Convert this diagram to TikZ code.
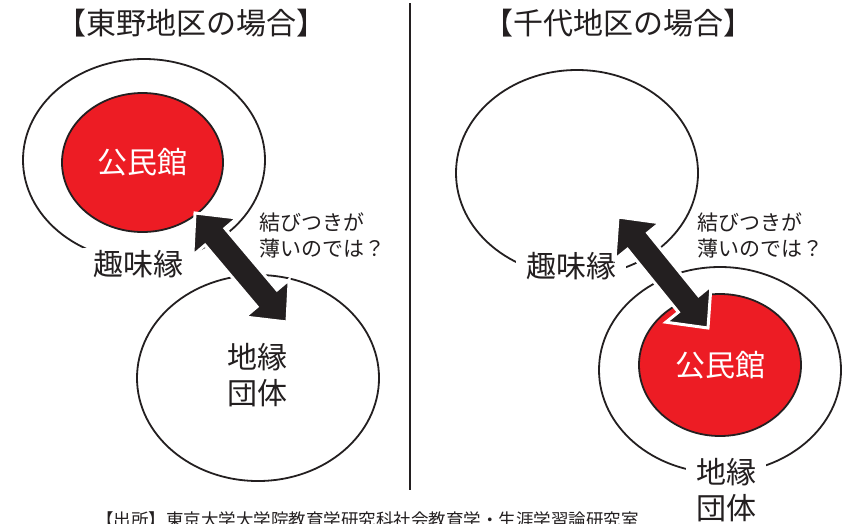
\documentclass[tikz,border=0pt]{standalone}
\usepackage{fontspec}
\setmainfont{Noto Sans CJK JP}
\usetikzlibrary{calc,shapes.geometric}
\definecolor{ink}{HTML}{231F20}
\definecolor{hallred}{HTML}{ED1C24}
\newcommand\hdl{31pt}
\newcommand\hdw{29pt}
\newcommand\shw{13pt}
\newcommand\dblarr[2]{%
  \filldraw[fill=ink, draw=white, line width=3pt, line join=miter]
    (#1) -- ($(#1)!\hdl!(#2)!\hdw!90:(#2)$) -- ($(#1)!\hdl!(#2)!\shw!90:(#2)$)
    -- ($(#2)!\hdl!(#1)!\shw!-90:(#1)$) -- ($(#2)!\hdl!(#1)!\hdw!-90:(#1)$)
    -- (#2) -- ($(#2)!\hdl!(#1)!\hdw!90:(#1)$) -- ($(#2)!\hdl!(#1)!\shw!90:(#1)$)
    -- ($(#1)!\hdl!(#2)!\shw!-90:(#2)$) -- ($(#1)!\hdl!(#2)!\hdw!-90:(#2)$) -- cycle;}
\begin{document}
\begin{tikzpicture}[x=1pt,y=-1pt,
  ring/.style={ellipse, draw=ink, line width=1.8pt, inner sep=0pt},
  hall/.style={ellipse, draw=ink, fill=hallred, line width=1.8pt, inner sep=0pt,
    text=white, font=\fontsize{30}{36}\selectfont},
  big/.style={text=ink, inner sep=0pt, align=center, font=\fontsize{30}{36}\selectfont},
  mask/.style={big, fill=white, inner xsep=10pt, inner ysep=2pt},
  ttl/.style={text=ink, inner sep=0pt, font=\fontsize{30}{36}\selectfont},
  note/.style={text=ink, inner sep=0pt, align=left, font=\fontsize{21}{26}\selectfont},
  src/.style={text=ink, inner sep=0pt, font=\fontsize{17.5}{22}\selectfont}]
\clip (0,0) rectangle (850,523);
\fill[white] (0,0) rectangle (850,523);
% divider
\coordinate (divT) at (410,3);
\coordinate (divB) at (410,490);
\draw[ink, line width=2.2pt] (divT) -- (divB);
% titles
\node[ttl] (titleL) at (191.5,23.5) {【東野地区の場合】};
\node[ttl] (titleR) at (618.5,23.5) {【千代地区の場合】};
% left panel
\node[ring, minimum width=242pt, minimum height=202pt] (outerL) at (144,160) {};
\node[hall, minimum width=161pt, minimum height=139pt] (hallL) at (142.5,162.5) {公民館};
\node[ring, minimum width=242pt, minimum height=206pt] (chienL) at (258,378) {};
\node[mask] (shumiL) at (138,264) {趣味縁};
\node[big] (chienLt) at (257,375) {地縁\\団体};
\node[note, anchor=west] (noteL) at (259,235) {結びつきが\\薄いのでは？};
% right panel
\node[ring, minimum width=242pt, minimum height=206pt] (outerR) at (577,173) {};
\node[ring, minimum width=242pt, minimum height=206pt] (chienR) at (720,370) {};
\node[hall, minimum width=162pt, minimum height=142pt] (hallR) at (720,365) {公民館};
\node[mask] (shumiR) at (571,266) {趣味縁};
\node[mask, inner ysep=0pt] (chienRt) at (726,490) {地縁\\団体};
\node[note, anchor=west] (noteR) at (697,235) {結びつきが\\薄いのでは？};
% arrows
\coordinate (aL1) at (195,213);
\coordinate (aL2) at (287,322);
\coordinate (aR1) at (618,217);
\coordinate (aR2) at (708,328);
\dblarr{aL1}{aL2}
\dblarr{aR1}{aR2}
% source
\node[src, anchor=base west] (source) at (96,526) {【出所】東京大学大学院教育学研究科社会教育学・生涯学習論研究室};
\end{tikzpicture}
\end{document}
